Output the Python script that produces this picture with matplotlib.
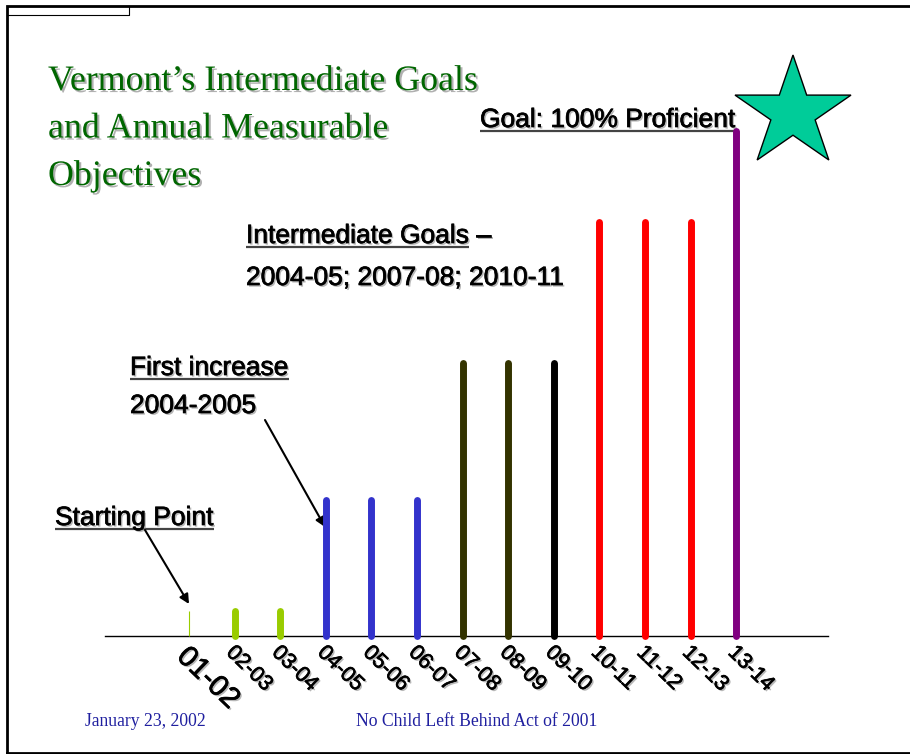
import matplotlib

matplotlib.use("Agg")
import matplotlib.pyplot as plt
import matplotlib.patheffects as pe
import numpy as np
from matplotlib import font_manager
from matplotlib.patches import Polygon
from matplotlib.transforms import ScaledTranslation

# chart data
years = ["01-02", "02-03", "03-04", "04-05", "05-06", "06-07", "07-08",
         "08-09", "09-10", "10-11", "11-12", "12-13", "13-14"]
percent = [5, 5, 5, 27, 27, 27, 54, 54, 54, 82, 82, 82, 100]
bar_colors = ["#99cc00", "#99cc00", "#99cc00", "#3333cc", "#3333cc", "#3333cc",
              "#333300", "#333300", "#000000", "#ff0000", "#ff0000", "#ff0000", "#800080"]

title_lines = ["Vermont\u2019s Intermediate Goals", "and Annual Measurable", "Objectives"]


def pick_font(names):
    for name in names:
        try:
            font_manager.findfont(name, fallback_to_default=False)
            return name
        except ValueError:
            pass
    return "DejaVu Sans"


NARROW = pick_font(["Liberation Sans Narrow", "Arial Narrow", "Liberation Sans"])
SERIF = pick_font(["Liberation Serif", "Times New Roman", "DejaVu Serif"])
LABEL_SIZE = 21 if "Narrow" in NARROW else 19

W, H = 910, 754
fig = plt.figure(figsize=(W / 100, H / 100), dpi=100)

# overlay in pixel coordinates (y down) for decorations
ov = fig.add_axes([0, 0, 1, 1])
ov.set_xlim(0, W)
ov.set_ylim(H, 0)
ov.axis("off")

# bar axes: baseline at y=636px, 100% at y=131px, index 0 at x=189, step 45.6
step = 45.6
x_left, x_right = 105, 828
base_y, top_y = 636, 131
ax = fig.add_axes([x_left / W, (H - base_y) / H, (x_right - x_left) / W, (base_y - top_y) / H])
ax.set_xlim((x_left - 189) / step, (x_right - 189) / step)
ax.set_ylim(0, 100)
ax.patch.set_alpha(0)
for side in ("top", "left", "right"):
    ax.spines[side].set_visible(False)
ax.spines["bottom"].set_linewidth(1.0)
ax.set_xticks([])
ax.set_yticks([])

xs = np.arange(len(years))
for i, (v, c) in enumerate(zip(percent, bar_colors)):
    lw = 0.8 if i == 0 else 5.0
    cap = "butt" if i == 0 else "round"
    ax.plot([xs[i], xs[i]], [0, v], color=c, lw=lw, solid_capstyle=cap, clip_on=False, zorder=3)

# heavier look with a gray drop shadow
shadow = [pe.SimplePatchShadow(offset=(1.2, -1.2), shadow_rgbFace="#888888", alpha=0.6),
          pe.Stroke(linewidth=0.5, foreground="black"), pe.Normal()]
for i, lbl in enumerate(years):
    size = 21 if i == 0 else 15.5
    off = ScaledTranslation(2 / 100, -6 / 100, fig.dpi_scale_trans)
    ax.text(xs[i], 0, lbl, transform=ax.transData + off, rotation=-44, rotation_mode="anchor",
            ha="left", va="top", fontsize=size, family=NARROW, color="black", clip_on=False,
            path_effects=shadow)

# title with soft shadow
title_shadow = [pe.SimplePatchShadow(offset=(1.5, -1.5), shadow_rgbFace="#b0b0b0", alpha=1.0), pe.Normal()]
for k, line in enumerate(title_lines):
    ov.text(48, 90 + 47.5 * k, line, fontsize=25.8, family=SERIF, color="#006600",
            va="baseline", ha="left", path_effects=title_shadow)

fig.canvas.draw()
renderer = fig.canvas.get_renderer()


def label(x, y, txt, underline=False, tail=""):
    t = ov.text(x, y, txt, fontsize=LABEL_SIZE, family=NARROW, va="baseline", ha="left",
                color="black", path_effects=shadow)
    if underline or tail:
        bb = t.get_window_extent(renderer=renderer)
        x1 = ov.transData.inverted().transform((bb.x1, bb.y0))[0]
        if underline:
            ov.plot([x, x1], [y + 4, y + 4], color="#444444", lw=1.6, solid_capstyle="butt")
        if tail:
            ov.text(x1, y, tail, fontsize=LABEL_SIZE, family=NARROW, va="baseline", ha="left",
                    color="black", path_effects=shadow)


label(480, 127, "Goal: 100% Proficient", underline=True)
label(246, 243, "Intermediate Goals", underline=True, tail=" \u2013")
label(246, 285, "2004-05; 2007-08; 2010-11")
label(130, 375, "First increase", underline=True)
label(130, 413, "2004-2005")
label(55, 525, "Starting Point", underline=True)

arrow = dict(arrowstyle="-|>", color="black", lw=1.5, mutation_scale=14, shrinkA=0, shrinkB=0)
ov.annotate("", xy=(189, 604), xytext=(145, 530), arrowprops=arrow)
ov.annotate("", xy=(325, 527), xytext=(265, 420), arrowprops=arrow)

# star in the top right
ang = np.pi / 2 + np.arange(10) * np.pi / 5
rad = np.where(np.arange(10) % 2 == 0, 1.0, 0.382)
sx, sy = rad * np.cos(ang), rad * np.sin(ang)
sx = 735 + (sx - sx.min()) / (sx.max() - sx.min()) * (851 - 735)
sy = 55 + (sy.max() - sy) / (sy.max() - sy.min()) * (160 - 55)
ov.add_patch(Polygon(np.column_stack([sx, sy]), closed=True, facecolor="#00cc99",
                     edgecolor="black", lw=1.0, zorder=4))

# footer
ov.text(85, 726, "January 23, 2002", fontsize=12.7, family=SERIF, color="#1f1f9f", va="baseline")
ov.text(356, 726, "No Child Left Behind Act of 2001", fontsize=12.7, family=SERIF, color="#1f1f9f",
        va="baseline")

# slide frame
ov.plot([6.5, 6.5, W], [752.5, 5.5, 5.5], color="black", lw=2.0, solid_joinstyle="miter")
ov.plot([6.5, W], [752.5, 752.5], color="black", lw=2.0)
ov.plot([6.5, 129, 129, 6.5], [5.5, 5.5, 15, 15], color="black", lw=0.8)

fig.savefig("out.png", dpi=100)
